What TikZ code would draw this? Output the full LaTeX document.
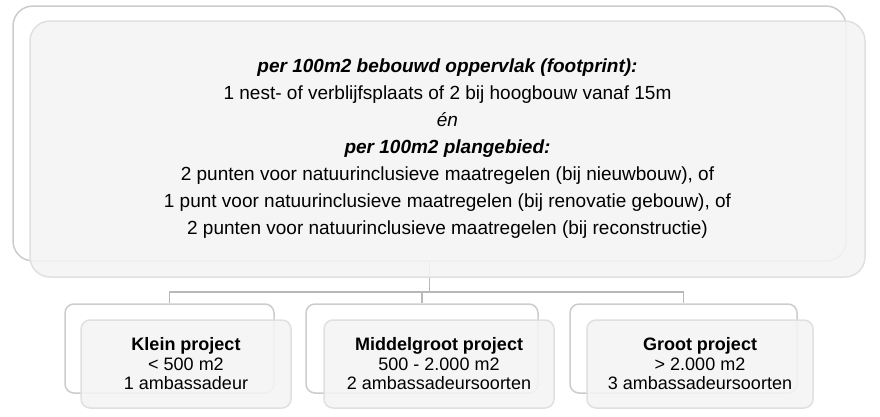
\documentclass[tikz,border=0pt]{standalone}
\usepackage{fontspec}
\setmainfont{Liberation Sans}
\definecolor{backline}{HTML}{CCCCCC}
\definecolor{frontline}{HTML}{E0E0E0}
\definecolor{frontfill}{HTML}{F4F4F4}
\definecolor{connline}{HTML}{B8B8B8}
\begin{document}
\begin{tikzpicture}[x=1pt,y=-1pt,
  backbox/.style={draw=backline, line width=1.5pt, fill=white, inner sep=0pt},
  frontbox/.style={draw=frontline, line width=1.5pt, fill=frontfill, fill opacity=0.88, text opacity=1, inner sep=0pt, align=center},
  bigr/.style={rounded corners=20pt},
  smallr/.style={rounded corners=9pt},
  conn/.style={draw=connline, line width=1.5pt},
  toptext/.style={font=\fontsize{19}{27}\selectfont},
  bottext/.style={font=\fontsize{18}{19.5}\selectfont}]
\useasboundingbox (0,0) rectangle (880,416);
% back boxes
\node[backbox,bigr,minimum width=833pt,minimum height=255pt] (topback) at (429.5,133.5) {};
\node[backbox,smallr,minimum width=209pt,minimum height=89pt] (b1back) at (169.5,348.5) {};
\node[backbox,smallr,minimum width=232pt,minimum height=89pt] (b2back) at (422,348.5) {};
\node[backbox,smallr,minimum width=227pt,minimum height=89pt] (b3back) at (683.5,348.5) {};
% connectors
\coordinate (j) at (topback.south |- 0,292);
\draw[conn] (topback.south) -- (j);
\draw[conn] (b1back.north) |- (j) -| (b3back.north);
\draw[conn] (b2back.north) -- (b2back.north |- j);
% front boxes
\node[frontbox,bigr,toptext,minimum width=835pt,minimum height=256pt] (topfront) at (447.5,149)
  {\textbf{\textit{per 100m2 bebouwd oppervlak (footprint):}}\\
   1 nest- of verblijfsplaats of 2 bij hoogbouw vanaf 15m\\
   \textit{én}\\
   \textbf{\textit{per 100m2 plangebied:}}\\
   2 punten voor natuurinclusieve maatregelen (bij nieuwbouw), of\\
   1 punt voor natuurinclusieve maatregelen (bij renovatie gebouw), of\\
   2 punten voor natuurinclusieve maatregelen (bij reconstructie)};
\node[frontbox,smallr,bottext,minimum width=210pt,minimum height=88pt] (b1front) at (186,364)
  {\textbf{Klein project}\\ < 500 m2\\ 1 ambassadeur};
\node[frontbox,smallr,bottext,minimum width=230pt,minimum height=88pt] (b2front) at (439,364)
  {\textbf{Middelgroot project}\\ 500 - 2.000 m2\\ 2 ambassadeursoorten};
\node[frontbox,smallr,bottext,minimum width=226pt,minimum height=88pt] (b3front) at (700,364)
  {\textbf{Groot project}\\ > 2.000 m2\\ 3 ambassadeursoorten};
\end{tikzpicture}
\end{document}
